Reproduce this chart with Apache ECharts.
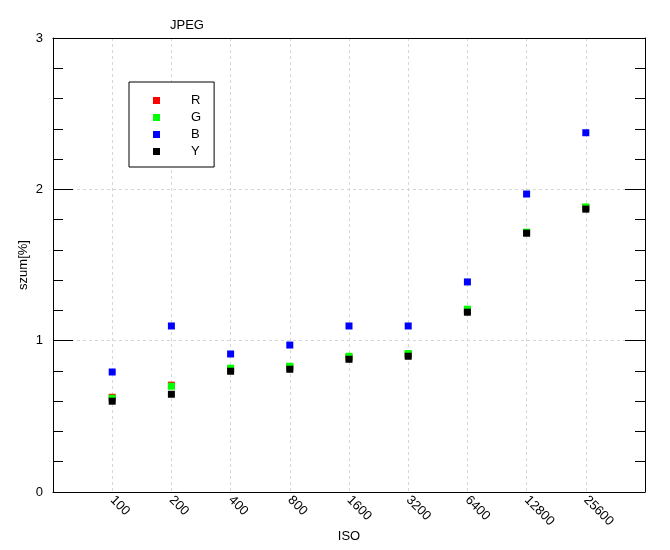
<!DOCTYPE html>
<html>
<head>
<meta charset="utf-8">
<script src="https://cdn.jsdelivr.net/npm/echarts@6/dist/echarts.min.js"></script>
<style>html,body{margin:0;padding:0;background:#fff}#c{width:670px;height:550px}</style>
</head>
<body>
<div id="c"></div>
<script>
var isoLabels = ['100','200','400','800','1600','3200','6400','12800','25600'];
var seriesNames = ['R','G','B','Y'];
var seriesColors = ['#ff0000','#00ff00','#0000ff','#000000'];
var valuesR = [0.626, 0.706, 0.81, 0.825, 0.89, 0.91, 1.20, 1.715, 1.88];
var valuesG = [0.620, 0.699, 0.818, 0.831, 0.897, 0.915, 1.208, 1.717, 1.884];
var valuesB = [0.793, 1.097, 0.912, 0.971, 1.097, 1.097, 1.388, 1.969, 2.374];
var valuesY = [0.600, 0.646, 0.798, 0.811, 0.877, 0.897, 1.188, 1.710, 1.869];
var yTicks = [0, 1, 2, 3];

var allValues = [valuesR, valuesG, valuesB, valuesY];
var FONT = "'Liberation Sans', Arial, sans-serif";

var chart = echarts.init(document.getElementById('c'), null, {renderer: 'canvas'});
var series = seriesNames.map(function (n, k) {
  return {
    name: n,
    type: 'scatter',
    symbol: 'rect',
    symbolSize: 7,
    itemStyle: {color: seriesColors[k], opacity: 1},
    emphasis: {disabled: true},
    data: allValues[k].map(function (v, i) { return [i + 1, v]; })
  };
});

function makeYAxis(pos) {
  var ax = {
    type: 'value',
    position: pos,
    min: yTicks[0],
    max: yTicks[yTicks.length - 1],
    interval: 1,
    axisLine: {show: true, onZero: false, lineStyle: {color: '#000', width: 1}},
    axisTick: {show: true, inside: true, length: 20, lineStyle: {color: '#000', width: 1}},
    minorTick: {show: true, splitNumber: 5, length: 10, lineStyle: {color: '#000', width: 1}},
    minorSplitLine: {show: false}
  };
  if (pos === 'left') {
    ax.name = 'szum[%]';
    ax.nameLocation = 'middle';
    ax.nameGap = 23;
    ax.nameMoveOverlap = false;
    ax.nameTextStyle = {fontSize: 13, color: '#000', fontFamily: FONT};
    ax.axisLabel = {margin: 10, fontSize: 13, color: '#000', fontFamily: FONT};
    ax.splitLine = {show: true, lineStyle: {color: '#d6d6d6', type: [3, 3], width: 1}};
  } else {
    ax.axisLabel = {show: false};
    ax.splitLine = {show: false};
  }
  return ax;
}

chart.setOption({
  animation: false,
  backgroundColor: '#fff',
  textStyle: {fontFamily: FONT},
  title: {
    text: 'JPEG',
    left: 170,
    top: 19,
    padding: 0,
    textStyle: {fontSize: 13, fontWeight: 'normal', color: '#000', fontFamily: FONT}
  },
  legend: {
    orient: 'vertical',
    left: 129,
    top: 82,
    padding: [12, 13, 9, 24],
    itemGap: 4,
    itemWidth: 7,
    itemHeight: 7,
    icon: 'rect',
    borderColor: '#000',
    borderWidth: 1,
    backgroundColor: '#fff',
    selectedMode: false,
    data: seriesNames,
    textStyle: {fontSize: 13, color: '#000', fontFamily: FONT, lineHeight: 13, padding: [0, 0, 0, 26]}
  },
  grid: {left: 53, top: 38, width: 592, height: 454, outerBoundsMode: 'none', containLabel: false},
  xAxis: [{
    type: 'value',
    position: 'bottom',
    min: 0,
    max: isoLabels.length + 1,
    interval: 1,
    name: 'ISO',
    nameLocation: 'middle',
    nameGap: 38,
    nameMoveOverlap: false,
    nameTextStyle: {fontSize: 13, color: '#000', fontFamily: FONT},
    axisLine: {show: true, onZero: false, lineStyle: {color: '#000'}},
    axisTick: {show: false},
    splitLine: {show: true, lineStyle: {color: '#d6d6d6', type: [3, 3], width: 1}},
    axisLabel: {
      rotate: -45,
      margin: 6,
      fontSize: 13,
      color: '#000',
      fontFamily: FONT,
      showMinLabel: false,
      showMaxLabel: false,
      formatter: function (v) { return isoLabels[v - 1] || ''; }
    }
  }, {
    type: 'value',
    position: 'top',
    min: 0,
    max: isoLabels.length + 1,
    interval: 1,
    axisLine: {show: true, onZero: false, lineStyle: {color: '#000'}},
    axisTick: {show: false},
    axisLabel: {show: false},
    splitLine: {show: false}
  }],
  yAxis: [makeYAxis('left'), makeYAxis('right')],
  series: series
});
</script>
</body>
</html>
